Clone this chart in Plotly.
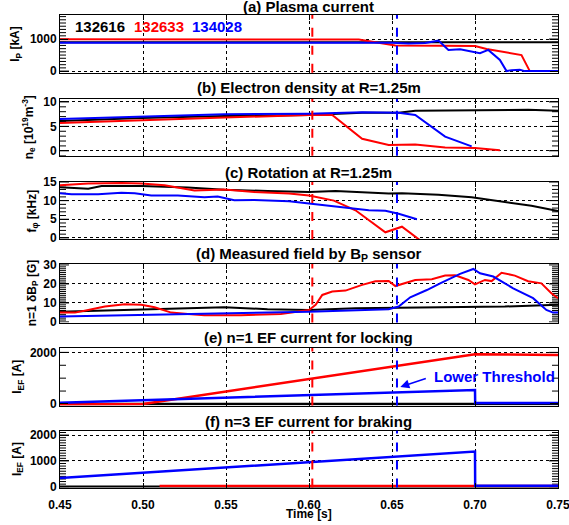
import plotly.graph_objects as go

# ---------------- data ----------------
shots = ["132616", "132633", "134028"]
colors = ["black", "red", "blue"]

# (a) plasma current [kA]
a_t = [[0.45, 0.55, 0.65, 0.75],
       [0.45, 0.55, 0.63, 0.64, 0.652, 0.68, 0.70, 0.707, 0.723, 0.728, 0.733, 0.75],
       [0.45, 0.65, 0.66, 0.67, 0.678, 0.684, 0.691, 0.703, 0.708, 0.715, 0.719, 0.722, 0.727, 0.73, 0.75]]
a_v = [[900, 905, 900, 900],
       [990, 990, 985, 900, 800, 790, 780, 690, 560, 500, 0, 0],
       [885, 885, 860, 880, 950, 660, 680, 560, 660, 350, 0, 30, 40, 0, 0]]

# (b) electron density [1e19 m^-3]
b_t = [[0.45, 0.499, 0.549, 0.600, 0.632, 0.654, 0.664, 0.700, 0.732, 0.750],
       [0.45, 0.499, 0.549, 0.600, 0.614, 0.632, 0.648, 0.664, 0.682, 0.700, 0.715],
       [0.45, 0.499, 0.549, 0.600, 0.632, 0.654, 0.664, 0.682, 0.698]]
b_v = [[6.1, 6.7, 7.1, 7.35, 7.8, 7.8, 8.2, 8.3, 8.4, 8.2],
       [5.7, 6.3, 6.8, 7.35, 7.35, 2.45, 1.2, 1.3, 0.7, 0.55, 0.1],
       [6.5, 7.0, 7.5, 7.6, 7.9, 7.8, 7.35, 2.9, 0.9]]

# (c) rotation [kHz]
c_t = [[0.450, 0.467, 0.475, 0.499, 0.527, 0.549, 0.575, 0.600, 0.616, 0.648, 0.656, 0.678, 0.698, 0.718, 0.734, 0.750],
       [0.450, 0.467, 0.487, 0.499, 0.513, 0.531, 0.549, 0.567, 0.588, 0.600, 0.615, 0.628, 0.646, 0.656, 0.668],
       [0.450, 0.457, 0.473, 0.487, 0.495, 0.505, 0.521, 0.537, 0.545, 0.555, 0.567, 0.588, 0.600, 0.618, 0.636, 0.646, 0.654, 0.665]]
c_v = [[13.6, 13.2, 13.9, 13.9, 13.5, 12.9, 12.6, 12.3, 12.6, 11.9, 12.0, 11.6, 10.9, 9.6, 8.6, 7.2],
       [14.1, 14.6, 14.7, 14.6, 14.1, 12.7, 13.0, 12.3, 11.9, 11.4, 10.0, 7.4, 1.5, 3.0, -1.0],
       [12.0, 11.7, 11.7, 12.1, 12.0, 11.4, 11.4, 10.9, 11.1, 10.1, 10.2, 9.8, 9.2, 8.3, 7.4, 7.3, 6.5, 5.0]]

# (d) n=1 dBp [G]
d_t = [[0.450, 0.499, 0.527, 0.549, 0.575, 0.600, 0.628, 0.654, 0.688, 0.718, 0.750],
       [0.450, 0.459, 0.467, 0.477, 0.489, 0.499, 0.507, 0.517, 0.527, 0.537, 0.559, 0.583, 0.600, 0.604,
        0.608, 0.614, 0.622, 0.632, 0.640, 0.648, 0.652, 0.658, 0.664, 0.674, 0.682, 0.688, 0.696, 0.700,
        0.706, 0.710, 0.716, 0.724, 0.732, 0.740, 0.746, 0.750],
       [0.450, 0.507, 0.547, 0.600, 0.648, 0.654, 0.661, 0.671, 0.679, 0.691, 0.699, 0.703, 0.711, 0.723,
        0.735, 0.743, 0.747, 0.750]]
d_v = [[5.4, 6.7, 7.5, 7.7, 6.7, 6.3, 7.2, 7.5, 8.1, 8.1, 9.1],
       [4.9, 4.9, 6.3, 8.1, 9.3, 9.0, 7.7, 4.9, 4.2, 3.5, 3.5, 4.2, 6.3, 9.0,
        14.2, 16.0, 16.5, 19.5, 21.4, 21.6, 18.9, 20.6, 22.1, 22.5, 24.4, 24.6, 22.1, 19.8,
        22.1, 21.5, 25.9, 24.4, 21.4, 20.3, 15.1, 12.5],
       [2.8, 3.7, 4.2, 5.4, 6.7, 8.1, 13.0, 16.8, 20.3, 25.3, 27.9, 25.6, 23.9, 17.7,
        12.5, 6.3, 4.9, 4.9]]

# (e) n=1 EF current [A]
e_t = [[0.45, 0.75],
       [0.45, 0.50, 0.70, 0.75],
       [0.45, 0.70, 0.7001, 0.75]]
e_v = [[0, 0],
       [-20, 0, 1930, 1900],
       [50, 540, 40, 40]]

# (f) n=3 EF current [A]
f_t = [[0.45, 0.75],
       [0.51, 0.75],
       [0.45, 0.70, 0.7001, 0.75]]
f_v = [[0, 0],
       [30, 30],
       [335, 1360, 40, 40]]

panel_t = [a_t, b_t, c_t, d_t, e_t, f_t]
panel_v = [a_v, b_v, c_v, d_v, e_v, f_v]
panel_titles = ["(a) Plasma current", "(b) Electron density at R=1.25m", "(c) Rotation at R=1.25m",
                "(d) Measured field by B<sub>P</sub> sensor", "(e) n=1 EF current for locking",
                "(f) n=3 EF current for braking"]
y_titles = ["I<sub>P</sub> [kA]", "n<sub>e</sub> [10<sup>19</sup>m<sup>-3</sup>]", "f<sub>φ</sub> [kHz]",
            "n=1 δB<sub>P</sub> [G]", "I<sub>EF</sub> [A]", "I<sub>EF</sub> [A]"]
y_ranges = [[-50, 1750], [-1, 10.6], [-0.3, 15.0], [-0.3, 30.5], [-60, 2170], [-30, 2170]]
y_dtick = [1000, 5, 5, 10, 2000, 1000]
y_minor = [100, 1, 1, 1, 500, 100]
x_ticks = [0.45, 0.50, 0.55, 0.60, 0.65, 0.70, 0.75]
x_range = [0.45, 0.75]
lock_times = [0.602, 0.653]

# ---------------- layout geometry (pixels) ----------------
W, H = 569, 525
x_left, x_right = 60, 558
panel_px = [(15, 72.7), (99, 155.7), (182, 239), (264, 322.5), (348, 405.5), (430.7, 487.5)]
ytitle_x = [16, 29, 32, 33, 18, 18]
title_y = [7, 88, 172, 254, 337, 421]
plot_w = x_right - x_left
span = x_range[1] - x_range[0]
minor_dx = 6.0 * span / plot_w
major_dx = 9.0 * span / plot_w

fig = go.Figure()
font_family = "Liberation Sans, Arial, Helvetica, sans-serif"
annotations = []
shapes = []
layout = dict(width=W, height=H, margin=dict(l=0, r=0, t=0, b=0, autoexpand=False),
              paper_bgcolor="white", plot_bgcolor="white", showlegend=False,
              font=dict(family=font_family, size=12, color="black", weight="bold"))

for i in range(6):
    n = "" if i == 0 else str(i + 1)
    xa, ya = "x" + n, "y" + n
    # tick marks (minor + major) on both sides as one line trace in axis coordinates
    lo, hi = y_ranges[i]
    step = y_minor[i]
    tx, ty = [], []
    m = int(lo // step)
    while m * step <= hi:
        v = m * step
        if v >= lo:
            is_major = (m * step) % y_dtick[i] == 0
            dx = major_dx if is_major else minor_dx
            tx += [x_range[0], x_range[0] + dx, None, x_range[1] - dx, x_range[1], None]
            ty += [v, v, None, v, v, None]
        m += 1
    fig.add_trace(go.Scatter(x=tx, y=ty, mode="lines", line=dict(color="black", width=1),
                             xaxis=xa, yaxis=ya, hoverinfo="skip", connectgaps=False))
    for k in range(3):
        w = 2.5 if i >= 4 else 2
        fig.add_trace(go.Scatter(x=panel_t[i][k], y=panel_v[i][k], mode="lines",
                                 line=dict(color=colors[k], width=w),
                                 xaxis=xa, yaxis=ya, hoverinfo="skip"))
    top, bot = panel_px[i]
    layout["xaxis" + n] = dict(domain=[x_left / W, x_right / W], range=x_range, anchor=ya,
                               tickvals=x_ticks, ticktext=["%.2f" % v for v in x_ticks],
                               showticklabels=(i == 5), ticks="inside", ticklen=5,
                               tickcolor="black", tickwidth=1, ticklabelstandoff=6,
                               ticklabeloverflow="allow",
                               showline=True, linecolor="black", linewidth=1, mirror="ticks",
                               showgrid=True, gridcolor="black", griddash="dot", gridwidth=1,
                               zeroline=False, automargin=False, tickfont=dict(size=12, weight="bold"))
    layout["yaxis" + n] = dict(domain=[1 - bot / H, 1 - top / H], range=y_ranges[i], anchor=xa,
                               dtick=y_dtick[i], tick0=0, ticks="inside", ticklen=8,
                               tickcolor="black", tickwidth=1,
                               showline=True, linecolor="black", linewidth=1, mirror="ticks",
                               showgrid=True, gridcolor="black", griddash="dot", gridwidth=1,
                               zeroline=False, automargin=False, tickfont=dict(size=12, weight="bold"))
    for t, c in zip(lock_times, ["red", "blue"]):
        shapes.append(dict(type="line", xref=xa, yref=ya + " domain", x0=t, x1=t, y0=0, y1=1,
                           line=dict(color=c, width=2, dash="dash")))
    annotations.append(dict(text=panel_titles[i], x=0.543, y=1 - title_y[i] / H, xref="paper", yref="paper",
                            showarrow=False, xanchor="center", yanchor="middle",
                            font=dict(size=15, weight="bold")))
    annotations.append(dict(text=y_titles[i], x=ytitle_x[i] / W, y=1 - (top + bot) / 2 / H,
                            xref="paper", yref="paper", showarrow=False, textangle=-90,
                            xanchor="center", yanchor="middle", font=dict(size=12, weight="bold")))

# shot labels
for s, c, px in zip(shots, colors, [73, 132, 190]):
    annotations.append(dict(text=s, x=px / W, y=1 - 27 / H, xref="paper", yref="paper",
                            showarrow=False, xanchor="left", yanchor="middle",
                            font=dict(size=15, color=c, weight="bold")))

# Lower threshold annotation
annotations.append(dict(text="Lower Threshold", x=432 / W, y=1 - 376 / H, xref="paper", yref="paper",
                        showarrow=False, xanchor="left", yanchor="middle",
                        font=dict(size=15, color="blue", weight="bold")))
annotations.append(dict(text="", x=0.655, y=660, xref="x5", yref="y5", showarrow=True,
                        ax=27, ay=-9, arrowhead=2, arrowsize=1.2, arrowwidth=1.5, arrowcolor="blue"))

# x-axis title
annotations.append(dict(text="Time [s]", x=309 / W, y=1 - 514 / H, xref="paper", yref="paper",
                        showarrow=False, xanchor="center", yanchor="middle",
                        font=dict(size=12, weight="bold")))

layout["annotations"] = annotations
layout["shapes"] = shapes
fig.update_layout(**layout)
fig.write_html("out.html")
